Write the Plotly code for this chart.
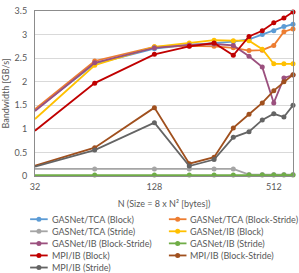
import plotly.graph_objects as go

# ---- data ----
sizes_n = [32, 64, 128, 192, 256, 320, 384, 448, 512, 576, 640]
series_names = [
    "GASNet/TCA (Block)", "GASNet/TCA (Block-Stride)", "GASNet/TCA (Stride)",
    "GASNet/IB (Block)", "GASNet/IB (Block-Stride)", "GASNet/IB (Stride)",
    "MPI/IB (Block)", "MPI/IB (Block-Stride)", "MPI/IB (Stride)",
]
tca_block = [1.40, 2.38, 2.70, 2.78, 2.82, 2.85, 2.90, 3.00, 3.08, 3.17, 3.22]
tca_block_stride = [1.42, 2.44, 2.74, 2.76, 2.75, 2.72, 2.66, 2.67, 2.77, 3.06, 3.12]
tca_stride = [0.15, 0.15, 0.15, 0.15, 0.15, 0.15, 0.03, 0.03, 0.03, 0.03, 0.03]
ib_block = [1.21, 2.35, 2.74, 2.82, 2.88, 2.87, 2.87, 2.69, 2.38, 2.38, 2.38]
ib_block_stride = [1.38, 2.40, 2.72, 2.78, 2.80, 2.77, 2.54, 2.31, 1.55, 2.08, 2.14]
ib_stride = [0.02, 0.02, 0.02, 0.02, 0.02, 0.02, 0.02, 0.02, 0.02, 0.02, 0.02]
mpi_block = [0.96, 1.97, 2.58, 2.75, 2.82, 2.56, 2.96, 3.08, 3.25, 3.35, 3.48]
mpi_block_stride = [0.22, 0.60, 1.45, 0.26, 0.40, 1.02, 1.31, 1.55, 1.81, 2.00, 2.15]
mpi_stride = [0.20, 0.55, 1.13, 0.21, 0.35, 0.82, 0.94, 1.19, 1.32, 1.25, 1.50]
series_values = [tca_block, tca_block_stride, tca_stride, ib_block, ib_block_stride,
                 ib_stride, mpi_block, mpi_block_stride, mpi_stride]
x_ticks = [32, 128, 512]
x_tick_labels = ["32", "128", "512"]

colors = ["#5B9BD5", "#ED7D31", "#A5A5A5", "#FFC000", "#9B507E",
          "#70AD47", "#C00000", "#A0501E", "#646464"]

W, H = 299, 273
ML, MR, MT, MB = 30, 5, 8, 97
PW, PH = W - ML - MR, H - MT - MB
FONT = "Lato"
TXT = "#595959"

fig = go.Figure()
for name, vals, col in zip(series_names, series_values, colors):
    fig.add_trace(go.Scatter(
        x=sizes_n, y=vals, name=name, mode="lines+markers",
        line=dict(color=col, width=1.8),
        marker=dict(color=col, size=5),
        cliponaxis=False, showlegend=False,
    ))

# manual compact legend (two columns, Excel style)
def px_to_paper(px, py):
    return (px - ML) / PW, (H - MB - py) / PH

shapes = []
annotations = []
for i, (name, col) in enumerate(zip(series_names, colors)):
    row, c = divmod(i, 2)
    x0 = 25 + c * 142
    y = 220 + row * 12.3
    xa, ya = px_to_paper(x0, y)
    xb, _ = px_to_paper(x0 + 18, y)
    xm, _ = px_to_paper(x0 + 9, y)
    xt, _ = px_to_paper(x0 + 20, y)
    shapes.append(dict(type="line", xref="paper", yref="paper", x0=xa, x1=xb, y0=ya, y1=ya,
                       line=dict(color=col, width=1.8)))
    shapes.append(dict(type="circle", xref="paper", yref="paper", xsizemode="pixel",
                       ysizemode="pixel", xanchor=xm, yanchor=ya, x0=-2.5, x1=2.5,
                       y0=-2.5, y1=2.5, fillcolor=col, line=dict(color=col, width=0)))
    annotations.append(dict(text=name, xref="paper", yref="paper", x=xt, y=ya,
                            xanchor="left", yanchor="middle", showarrow=False,
                            font=dict(family=FONT, size=9, color=TXT)))

fig.update_layout(
    width=W, height=H,
    margin=dict(l=ML, r=MR, t=MT, b=MB),
    paper_bgcolor="white", plot_bgcolor="white",
    font=dict(family=FONT, size=9, color=TXT),
    shapes=shapes, annotations=annotations,
    xaxis=dict(type="log", range=[1.50515, 2.80618], tickvals=x_ticks, ticktext=x_tick_labels,
               showgrid=False, showline=True, mirror=True, linecolor="#8c8c8c", linewidth=1,
               ticks="", zeroline=False, ticklabelstandoff=2,
               title=dict(text="N (Size = 8 x N² [bytes])", standoff=9,
                          font=dict(family=FONT, size=9, color=TXT))),
    yaxis=dict(range=[0, 3.5], dtick=0.5, showgrid=True, gridcolor="#d9d9d9", gridwidth=1,
               showline=True, mirror=True, linecolor="#8c8c8c", linewidth=1,
               ticks="", zeroline=False, ticklabelstandoff=5,
               title=dict(text="Bandwidth [GB/s]", standoff=3,
                          font=dict(family=FONT, size=9, color=TXT))),
)

fig.write_html("out.html")
